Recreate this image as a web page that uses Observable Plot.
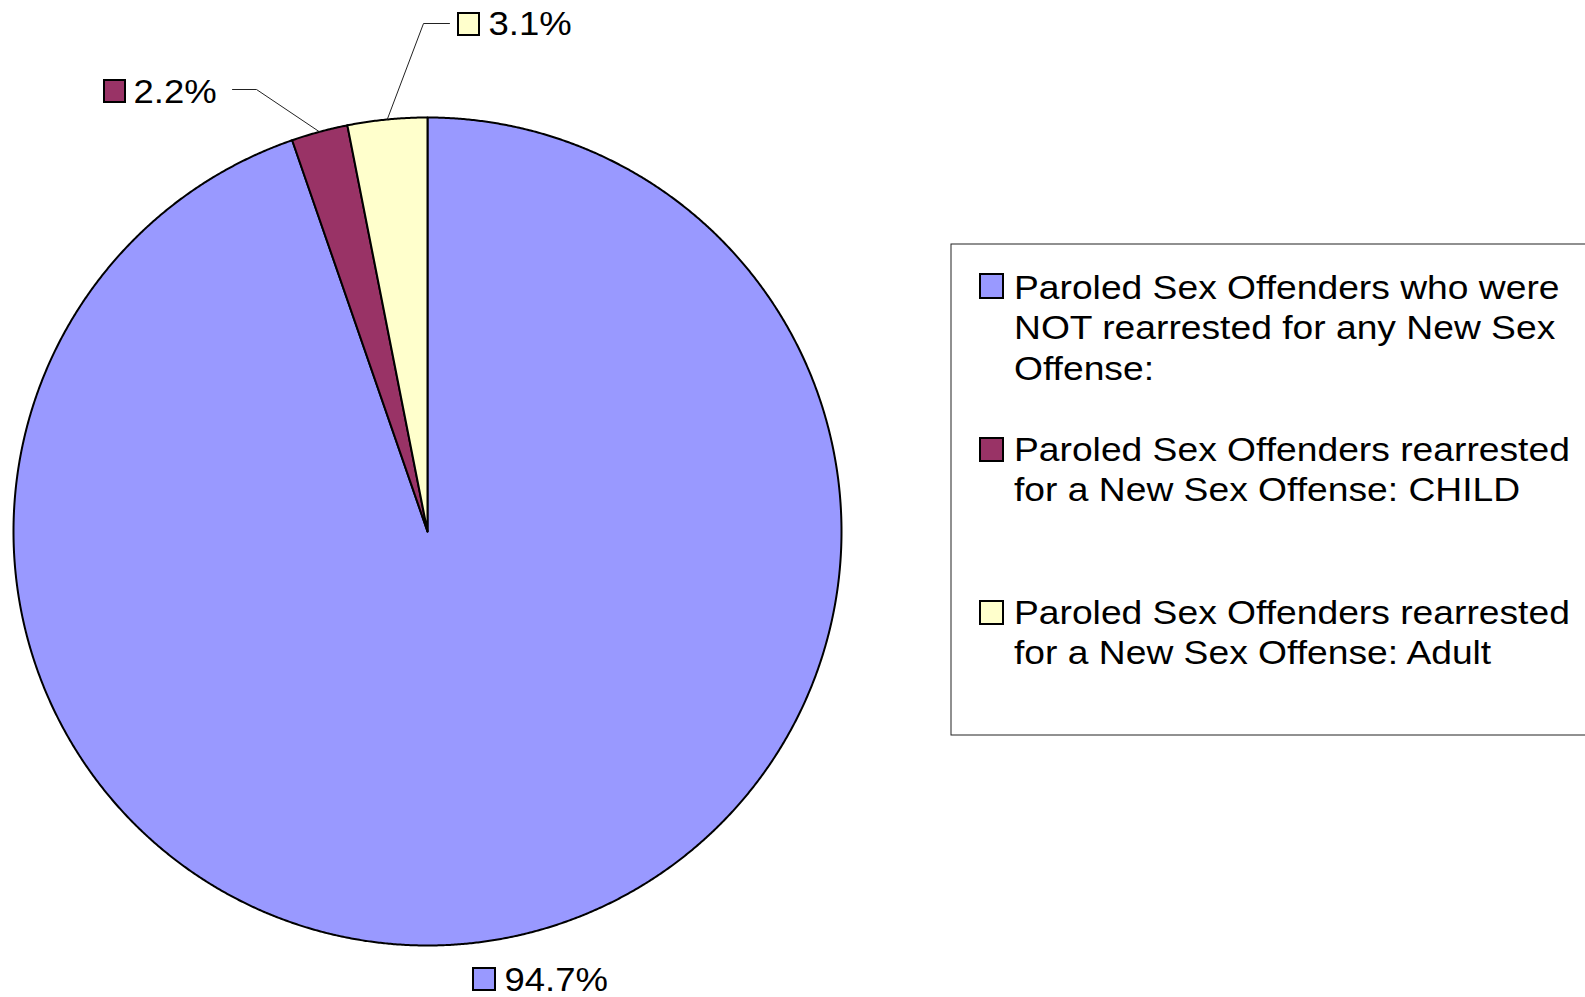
<!DOCTYPE html>
<html>
<head>
<meta charset="utf-8">
<script src="https://cdn.jsdelivr.net/npm/d3@7"></script>
<script src="https://cdn.jsdelivr.net/npm/@observablehq/plot@0.6"></script>
<style>
  html, body { margin: 0; padding: 0; background: #fff; }
  #chart svg { display: block; }
</style>
</head>
<body>
<div id="chart"></div>
<script>
// ---- data ----
const categories = [
  "Paroled Sex Offenders who were NOT rearrested for any New Sex Offense:",
  "Paroled Sex Offenders rearrested for a New Sex Offense: CHILD",
  "Paroled Sex Offenders rearrested for a New Sex Offense: Adult"
];
const values = [94.7, 2.2, 3.1];
const valueLabels = ["94.7%", "2.2%", "3.1%"];
const legendLines = [
  ["Paroled Sex Offenders who were", "NOT rearrested for any New Sex", "Offense:"],
  ["Paroled Sex Offenders rearrested", "for a New Sex Offense: CHILD"],
  ["Paroled Sex Offenders rearrested", "for a New Sex Offense: Adult"]
];
const colors = ["#9999FF", "#993366", "#FFFFCC"];

// ---- layout ----
const W = 1585, H = 997;
const cx = 427, cy = 531, R = 414;
const FONT = "'Liberation Sans', Arial, Helvetica, sans-serif";
const labelFont = 33.5, labelStretch = 1.09;
const legendFont = 34, legendStretch = 1.095, legendLineGap = 40.5;
// label layout: swatch box, text start/baseline, leader elbow/end (null = no leader)
const labelLayout = [
  {bx1: 473, bx2: 495, by1: 968, by2: 990, tx: 504, ty: 990.5, leader: null},
  {bx1: 104, bx2: 125, by1: 80, by2: 102, tx: 133, ty: 102.5, leader: [[256, 89], [232, 89]]},
  {bx1: 458, bx2: 479, by1: 13, by2: 35, tx: 488, ty: 34.5, leader: [[423, 23], [449, 23]]}
];
const legendBox = {x1: 951, x2: 1620, y1: 244, y2: 735};
const legendLayout = [
  {sx1: 980, sx2: 1003, sy1: 274, sy2: 298, tx: 1013.5, firstBaseline: 298},
  {sx1: 980, sx2: 1003, sy1: 438, sy2: 461, tx: 1013.5, firstBaseline: 460},
  {sx1: 980, sx2: 1003, sy1: 601, sy2: 624, tx: 1013.5, firstBaseline: 623}
];

// ---- pie geometry from data ----
const arcs = d3.pie().sort(null).value(d => d)(values);
const pt = (a, r) => [cx + r * Math.sin(a), cy - r * Math.cos(a)];
const slicePts = [];
arcs.forEach((a, i) => {
  slicePts.push({cat: categories[i], color: colors[i], x: cx, y: cy});
  const n = Math.max(4, Math.ceil((a.endAngle - a.startAngle) / 0.004));
  for (let k = 0; k <= n; k++) {
    const ang = a.startAngle + (a.endAngle - a.startAngle) * k / n;
    const [x, y] = pt(ang, R);
    slicePts.push({cat: categories[i], color: colors[i], x, y});
  }
  slicePts.push({cat: categories[i], color: colors[i], x: cx, y: cy});
});

const labels = arcs.map((a, i) => ({
  text: valueLabels[i], color: colors[i], ...labelLayout[i],
  mid: pt((a.startAngle + a.endAngle) / 2, R)
}));
const leaderPts = [];
labels.forEach((l, i) => {
  if (!l.leader) return;
  leaderPts.push({k: i, x: l.mid[0], y: l.mid[1]});
  l.leader.forEach(p => leaderPts.push({k: i, x: p[0], y: p[1]}));
});

const legendItems = categories.map((c, i) => ({
  cat: c, color: colors[i], text: legendLines[i].join("\n"), ...legendLayout[i],
  ty: legendLayout[i].firstBaseline + (legendLines[i].length - 1) * legendLineGap
}));

const chart = Plot.plot({
  width: W, height: H,
  margin: 0,
  x: {domain: [0, W], range: [0, W], axis: null},
  y: {domain: [0, H], range: [0, H], axis: null},
  color: {type: "identity"},
  style: {fontFamily: FONT, background: "#fff", overflow: "hidden"},
  marks: [
    // pie slices
    Plot.line(slicePts, {x: "x", y: "y", z: "cat", fill: "color", stroke: "#000", strokeWidth: 2, curve: "linear", strokeLinejoin: "round"}),
    // leader lines
    Plot.line(leaderPts, {x: "x", y: "y", z: "k", stroke: "#222", strokeWidth: 1}),
    // value label swatches
    Plot.rect(labels, {x1: "bx1", x2: "bx2", y1: "by1", y2: "by2", fill: "color", stroke: "#000", strokeWidth: 2}),
    Plot.text(labels, {x: "tx", y: "ty", text: "text", textAnchor: "start", lineAnchor: "bottom", fontSize: labelFont, fontFamily: FONT, fill: "#000"}),
    // legend
    Plot.rect([legendBox], {x1: "x1", x2: "x2", y1: "y1", y2: "y2", fill: "#fff", stroke: "#222", strokeWidth: 1}),
    Plot.rect(legendItems, {x1: "sx1", x2: "sx2", y1: "sy1", y2: "sy2", fill: "color", stroke: "#000", strokeWidth: 2}),
    Plot.text(legendItems, {x: "tx", y: "ty", text: "text", textAnchor: "start", lineAnchor: "bottom", fontSize: legendFont, fontFamily: FONT, lineHeight: legendLineGap / legendFont, fill: "#000"})
  ]
});

// the original's text is drawn slightly wider than the font's natural width
const textGroups = chart.querySelectorAll('g[aria-label="text"]');
const stretches = [labelStretch, legendStretch];
textGroups.forEach((g, gi) => {
  g.querySelectorAll("text").forEach(t => {
    const tr = t.getAttribute("transform") || "";
    t.setAttribute("transform", `${tr} scale(${stretches[gi]},1)`);
  });
});

document.getElementById("chart").appendChild(chart);
</script>
</body>
</html>
